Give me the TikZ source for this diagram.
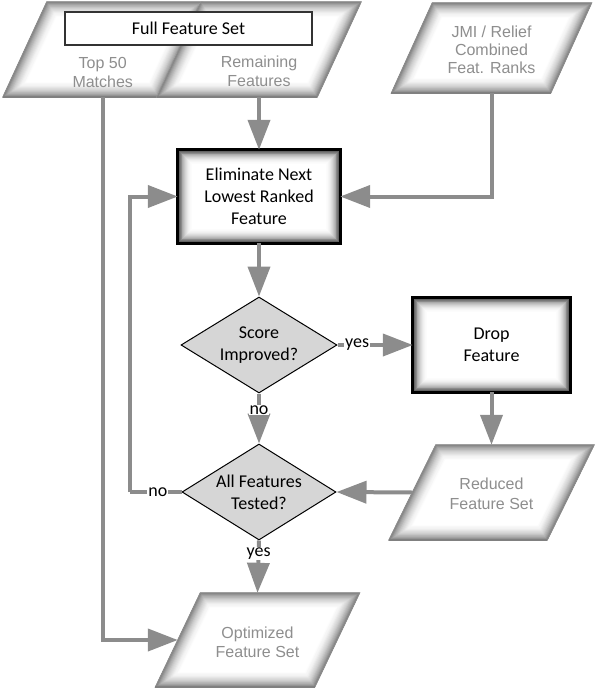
\documentclass[tikz,border=0pt]{standalone}
\usepackage{fontspec}
\setmainfont{Carlito}
\newfontfamily\pfont{Liberation Sans}
\usetikzlibrary{shapes.geometric,arrows.meta,backgrounds}
\definecolor{lnc}{HTML}{8C8C8C}
\definecolor{dfill}{HTML}{D6D6D6}
\definecolor{ptext}{HTML}{8E8E8E}
\tikzset{
  conn/.style={draw=lnc, line width=4pt, -{Triangle[length=30pt,width=22pt]}},
  plainline/.style={draw=lnc, line width=4pt},
  lbl/.style={fill=white, inner sep=1pt, font=\fontsize{18}{22}\selectfont},
  ptxt/.style={text=ptext, font=\pfont\fontsize{16}{19.5}\selectfont, align=center, inner sep=0pt},
  btxt/.style={font=\fontsize{18}{22}\selectfont, align=center},
  dec/.style={diamond, aspect=1.625, draw=black, line width=1pt, fill=dfill, inner sep=0pt, btxt},
}
\newcommand\glowfill[3]{%
  \begin{scope}
    \clip #1;
    \fill[white] #1;
    \foreach \i in {16,15,...,1}{
      \pgfmathtruncatemacro\cc{#2*((17-\i)/16)^2}
      \pgfmathsetmacro\ww{#3*\i/16}
      \draw[line width=\ww pt, draw=black!\cc, line join=miter] #1;}
  \end{scope}}
% [opts]{name}{center}{width}{height}{halfoffset}{text yshift}{text}
\newcommand\paral[8][]{%
  \node[minimum width=#4pt, minimum height=#5pt, inner sep=0pt] (#2) at #3 {};
  \node[ptxt,#1] (#2-t) at ([yshift=#7pt]#2.center) {#8};
  \begin{scope}[on background layer]
    \glowfill{([xshift=#6pt]#2.north west) -- ([xshift=#6pt]#2.north east) -- ([xshift=-#6pt]#2.south east) -- ([xshift=-#6pt]#2.south west) -- cycle}{48}{34}
    \draw[line width=1pt, draw=black!45, line join=miter] ([xshift=#6pt]#2.north west) -- ([xshift=#6pt]#2.north east) -- ([xshift=-#6pt]#2.south east) -- ([xshift=-#6pt]#2.south west) -- cycle;
    \draw[line width=2.5pt, draw=black!50] ([xshift=-#6pt]#2.south east) -- ([xshift=-#6pt]#2.south west);
  \end{scope}}
% {name}{center}{width}{height}{text}
\newcommand\gbox[5]{%
  \node[minimum width=#3pt, minimum height=#4pt, btxt] (#1) at #2 {#5};
  \begin{scope}[on background layer]
    \glowfill{(#1.north west) rectangle (#1.south east)}{70}{30}
    \draw[line width=3pt, line join=miter] (#1.north west) rectangle (#1.south east);
  \end{scope}}
\begin{document}
\begin{tikzpicture}[x=1pt,y=-1pt]
  \useasboundingbox (0,0) rectangle (596,690);
  % input shapes
  \paral{top50}{(102.75,49.5)}{155.5}{95}{22}{-23}{Top 50\\Matches}
  \paral{rem}{(259,49.5)}{160}{95}{22}{-22}{Remaining\\Features}
  \node[draw=black!80, line width=1.2pt, fill=white, minimum width=247pt, minimum height=33pt, btxt] (full) at (188.5,28.5) {Full Feature Set};
  \paral[font=\pfont\fontsize{16}{18}\selectfont]{jmi}{(491.5,48)}{159}{90}{20.5}{-2}{JMI / Relief\\Combined\\Feat. Ranks}
  % process boxes
  \gbox{elim}{(259,196.5)}{162}{93}{Eliminate Next\\Lowest Ranked\\Feature}
  \gbox{drop}{(491.5,345)}{157}{94}{Drop\\Feature}
  % decisions
  \node[dec, minimum width=156pt, minimum height=96pt] (score) at (259,345) {Score\\Improved?};
  \node[dec, minimum width=154pt, minimum height=96pt] (allf) at (259,492) {All Features\\Tested?};
  % outputs
  \paral{red}{(491.5,492.5)}{158}{95}{23.5}{-1.5}{Reduced\\Feature Set}
  \paral{opt}{(257.5,640)}{159}{94}{22.5}{-2.5}{Optimized\\Feature Set}
  \coordinate (loop) at (130,492);
  % connectors
  \draw[conn] (top50.south) |- (opt.west);
  \draw[conn] (rem.south) -- (rem.south |- elim.north);
  \draw[conn] (jmi.south) |- (elim.east);
  \draw[conn] (elim.south) -- (score.north);
  \draw[conn] (score.east) -- node[lbl, pos=0.26] {yes} (drop.west);
  \draw[conn] (score.south) -- node[lbl, pos=0.33] {no} (allf.north);
  \draw[conn] (drop.south) -- (drop.south |- red.north);
  \draw[conn] (red.west) -- (allf.east);
  \draw[plainline] (allf.west) -- node[lbl, pos=0.46] {no} (loop);
  \draw[conn] (loop) |- (elim.west);
  \draw[conn] (allf.south) -- node[lbl, pos=0.25] {yes} (opt.north);
\end{tikzpicture}
\end{document}
